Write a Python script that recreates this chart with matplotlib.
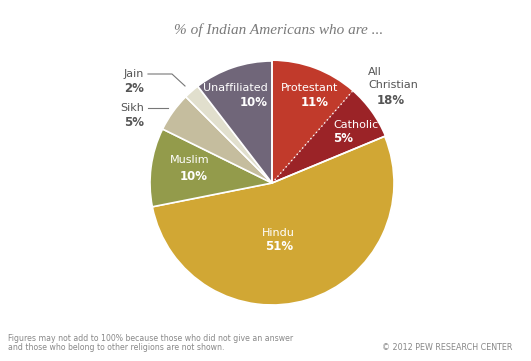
import numpy as np
import matplotlib
matplotlib.use('Agg')
import matplotlib.pyplot as plt

# slices, clockwise from 12 o'clock
names = ['Protestant', 'Catholic', 'Hindu', 'Muslim', 'Sikh', 'Jain', 'Unaffiliated']
shown_pct = [11, 5, 51, 10, 5, 2, 10]
# other Christians (2%) are drawn inside the Catholic slice, so All Christian = 18
other_christian = 2
all_christian = 18
colors = ['#C13A2B', '#9B2327', '#D1A734', '#939B4B', '#C5BD9E', '#E1DFCD', '#706679']

sizes = list(shown_pct)
sizes[1] += other_christian

W, H = 531, 361
fig = plt.figure(figsize=(W / 100, H / 100), dpi=100)
fig.patch.set_facecolor('white')

cx, cy, r = 272, 183, 122
ax = fig.add_axes([(cx - r) / W, (H - cy - r) / H, 2 * r / W, 2 * r / H])
wedges, _ = ax.pie(sizes, colors=colors, startangle=90, counterclock=False,
                   wedgeprops=dict(edgecolor='white', linewidth=1.2))
ax.set_xlim(-1, 1)
ax.set_ylim(-1, 1)
ax.axis('off')

# Protestant/Catholic border is dotted instead of solid
for w in wedges[:2]:
    w.set_linewidth(0)
theta = np.deg2rad(wedges[0].theta1)
ax.plot([0, np.cos(theta)], [0, np.sin(theta)], color='white', lw=1.0,
        ls=(0, (1, 2)), zorder=5)
for ang in (wedges[0].theta2, wedges[1].theta1):
    a = np.deg2rad(ang)
    ax.plot([0, np.cos(a)], [0, np.sin(a)], color='white', lw=1.2, zorder=5)


def px(x, y):
    return (x - cx) / r, (cy - y) / r


# labels inside the slices: (name position, pct position, alignment)
inside = {
    'Protestant': ((310, 88), (315, 103), 'center'),
    'Catholic': ((333, 125), (333, 139), 'left'),
    'Hindu': ((278, 233), (279, 247), 'center'),
    'Muslim': ((190, 160), (194, 176), 'center'),
    'Unaffiliated': ((268, 88), (268, 103), 'right'),
}
for name, pct in zip(names, shown_pct):
    if name not in inside:
        continue
    (nx, ny), (qx, qy), ha = inside[name]
    ax.text(*px(nx, ny), name, color='white', fontsize=8, ha=ha, va='center')
    ax.text(*px(qx, qy), f'{pct}%', color='white', fontsize=8.5,
            fontweight='bold', ha=ha, va='center')

dark = '#555555'
# outside labels
for name, pct, (ny, qy) in ((names[5], shown_pct[5], (74, 89)),
                            (names[4], shown_pct[4], (108, 122))):
    fig.text(144 / W, 1 - ny / H, name, color=dark, fontsize=8, ha='right', va='center')
    fig.text(144 / W, 1 - qy / H, f'{pct}%', color=dark, fontsize=8.5,
             fontweight='bold', ha='right', va='center')

lc = '#777777'
fig.add_artist(plt.Line2D([148 / W, 172 / W, 185 / W],
                          [1 - 74 / H, 1 - 74 / H, 1 - 86 / H], color=lc, lw=0.8))
fig.add_artist(plt.Line2D([148 / W, 168 / W], [1 - 108 / H, 1 - 108 / H],
                          color=lc, lw=0.8))

fig.text(368 / W, 1 - 72 / H, 'All', color=dark, fontsize=8, ha='left', va='center')
fig.text(368 / W, 1 - 85 / H, 'Christian', color=dark, fontsize=8, ha='left', va='center')
fig.text(391 / W, 1 - 100 / H, f'{all_christian}%', color=dark, fontsize=8.5,
         fontweight='bold', ha='center', va='center')

fig.text(279 / W, 1 - 30 / H, '% of Indian Americans who are ...', color='#7a7a7a',
         fontsize=11, family='Liberation Serif', style='italic', ha='center', va='center')

fig.text(8 / W, 1 - 343 / H,
         'Figures may not add to 100% because those who did not give an answer\n'
         'and those who belong to other religions are not shown.',
         color='#888888', fontsize=5.6, ha='left', va='center', linespacing=1.05)
fig.text(512 / W, 1 - 348 / H, '\u00a9 2012 PEW RESEARCH CENTER', color='#888888',
         fontsize=5.8, ha='right', va='center')

fig.savefig('out.png', dpi=100, facecolor='white')
